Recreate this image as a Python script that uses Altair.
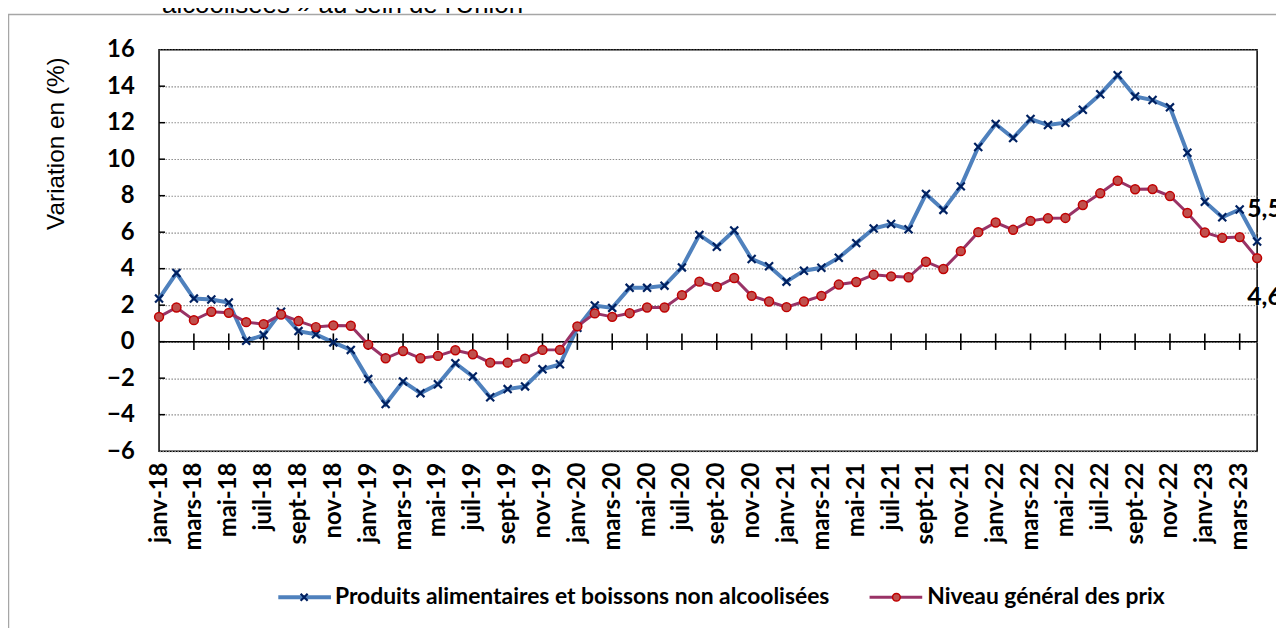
import altair as alt
import pandas as pd

# ---------------- data ----------------
months = ["janv", "févr", "mars", "avr", "mai", "juin",
          "juil", "août", "sept", "oct", "nov", "déc"]
years = ["18", "19", "20", "21", "22", "23"]
periods = [f"{m}-{y}" for y in years for m in months][:64]   # janv-18 .. avr-23

s_food = "Produits alimentaires et boissons non alcoolisées"
s_gen = "Niveau général des prix"

food = [2.36, 3.76, 2.36, 2.31, 2.15, 0.05, 0.36, 1.64, 0.58, 0.40, -0.04, -0.45,
        -2.05, -3.42, -2.18, -2.82, -2.33, -1.18, -1.91, -3.05, -2.60, -2.45, -1.51, -1.24,
        0.76, 1.98, 1.85, 2.95, 2.95, 3.07, 4.07, 5.85, 5.20, 6.09, 4.53, 4.13,
        3.29, 3.89, 4.05, 4.60, 5.40, 6.20, 6.45, 6.16, 8.09, 7.22, 8.51, 10.67,
        11.93, 11.16, 12.20, 11.87, 12.00, 12.71, 13.56, 14.60, 13.44, 13.24, 12.84, 10.35,
        7.67, 6.82, 7.24, 5.49]
general = [1.36, 1.87, 1.18, 1.64, 1.58, 1.07, 0.96, 1.49, 1.13, 0.80, 0.89, 0.87,
           -0.16, -0.91, -0.51, -0.91, -0.78, -0.47, -0.69, -1.15, -1.15, -0.93, -0.45, -0.45,
           0.84, 1.55, 1.36, 1.56, 1.87, 1.87, 2.55, 3.29, 3.00, 3.49, 2.51, 2.20,
           1.89, 2.20, 2.51, 3.13, 3.27, 3.67, 3.58, 3.53, 4.38, 3.98, 4.96, 6.00,
           6.53, 6.13, 6.62, 6.76, 6.78, 7.49, 8.13, 8.82, 8.35, 8.36, 7.98, 7.05,
           5.98, 5.69, 5.73, 4.58]

y_ticks = list(range(-6, 17, 2))
title_text = "alcoolisées » au sein de l'Union"

# ---------------- styling ----------------
W, H = 1105, 404
BLUE, NAVY = "#4F81BD", "#002060"
MAROON, RED_FILL, RED_STROKE = "#993366", "#C0504D", "#C00000"
XSHAPE = "M-1,-1L1,1M-1,1L1,-1"
BOLD = dict(font="Lato", fontWeight="bold")

food_df = pd.DataFrame({"period": periods, "value": food, "series": s_food})
gen_df = pd.DataFrame({"period": periods, "value": general, "series": s_gen})
ytick_df = pd.DataFrame({"value": y_ticks[1:-1]})
one = pd.DataFrame({"value": [0]})

x_axis = alt.Axis(values=periods[::2], labelAngle=-90, labelFont="Lato",
                  labelFontWeight="bold", labelFontSize=24, labelColor="black",
                  labelPadding=11, labelOverlap=False, ticks=False, domain=False,
                  grid=False, title=None)
y_axis = alt.Axis(values=y_ticks, labelFont="Lato", labelFontWeight="bold",
                  labelFontSize=24, labelColor="black", labelPadding=25,
                  labelOverlap=False, labelBound=False, labelFlush=False,
                  ticks=False, domain=False, grid=True, gridColor="#8C8C8C",
                  gridDash=[1.5, 1.5], gridWidth=1.2,
                  title="Variation en (%)", titleFont="Liberation Sans",
                  titleFontWeight="normal", titleFontSize=24.5, titleColor="black",
                  titleAngle=270, titleX=-103, titleY=94, titleAlign="center",
                  titleBaseline="middle")
x_scale = alt.Scale(type="point", padding=0, domain=periods)
y_scale = alt.Scale(domain=[-6, 16], nice=False, zero=False)
x_enc = alt.X("period:N", sort=periods, scale=x_scale, axis=x_axis)
y_enc = alt.Y("value:Q", scale=y_scale, axis=y_axis)

base_food = alt.Chart(food_df)
base_gen = alt.Chart(gen_df)

frame = alt.Chart(one).mark_rect(filled=False, stroke="#A6A6A6", strokeWidth=1.5).encode(
    x=alt.value(-151.5), x2=alt.value(1140), y=alt.value(-35.5), y2=alt.value(600))

title = alt.Chart(pd.DataFrame({"t": [title_text]})).mark_text(
    font="Liberation Sans", fontSize=26, align="left", baseline="alphabetic", color="black"
).encode(x=alt.value(3), y=alt.value(-37), text="t:N")

zero_rule = alt.Chart(one).mark_rule(color="black", strokeWidth=1.5).encode(y=y_enc)

# "cross" tick marks on the category axis every 2 months (not on the first month)
zero_ticks = base_food.transform_window(
    idx="row_number()"
).transform_filter(
    "datum.idx > 1 && (datum.idx - 1) % 2 == 0"
).transform_calculate(
    lo="-0.45", hi="0.45"
).mark_rule(color="black", strokeWidth=1.6, opacity=1).encode(
    x=x_enc, y=alt.Y("lo:Q", scale=y_scale, axis=y_axis), y2="hi:Q")

y_inner_ticks = alt.Chart(ytick_df).mark_rule(color="black", strokeWidth=1.5).encode(
    x=alt.value(0), x2=alt.value(6), y=y_enc)

food_line = base_food.mark_line(color=BLUE, strokeWidth=4).encode(x=x_enc, y=y_enc)
food_pts = base_food.mark_point(shape=XSHAPE, filled=False, stroke=NAVY,
                                strokeWidth=2.2, size=64, opacity=1).encode(
    x=x_enc, y=y_enc)
gen_line = base_gen.mark_line(color=MAROON, strokeWidth=3).encode(x=x_enc, y=y_enc)
gen_pts = base_gen.mark_point(shape="circle", filled=True, fill=RED_FILL,
                              stroke=RED_STROKE, strokeWidth=1.5, size=80, opacity=1).encode(
    x=x_enc, y=y_enc)

label_expr = "replace(format(datum.value, '.1f'), '.', ',')"
food_lbl = base_food.transform_filter(alt.datum.period == periods[-1]).transform_calculate(
    lbl=label_expr).mark_text(align="left", baseline="middle", dx=-10, dy=-33,
                              fontSize=25, color="black", **BOLD).encode(
    x=x_enc, y=y_enc, text="lbl:N")
gen_lbl = base_gen.transform_filter(alt.datum.period == periods[-1]).transform_calculate(
    lbl=label_expr).mark_text(align="left", baseline="middle", dx=-10, dy=39,
                              fontSize=25, color="black", **BOLD).encode(
    x=x_enc, y=y_enc, text="lbl:N")

# ---- legend (drawn manually: line + marker + label) ----
LY = 551
leg_food = alt.Chart(pd.DataFrame({"series": [s_food]}))
leg_gen = alt.Chart(pd.DataFrame({"series": [s_gen]}))
legend = alt.layer(
    leg_food.mark_rule(color=BLUE, strokeWidth=4).encode(
        x=alt.value(120), x2=alt.value(173), y=alt.value(LY)),
    leg_food.mark_point(shape=XSHAPE, filled=False, stroke=NAVY, strokeWidth=2.2,
                        size=50, opacity=1).encode(x=alt.value(146), y=alt.value(LY)),
    leg_food.mark_text(align="left", baseline="middle", fontSize=23, color="black",
                       **BOLD).encode(x=alt.value(177), y=alt.value(LY), text="series:N"),
    leg_gen.mark_rule(color=MAROON, strokeWidth=3).encode(
        x=alt.value(715), x2=alt.value(768), y=alt.value(LY)),
    leg_gen.mark_point(shape="circle", filled=True, fill=RED_FILL, stroke=RED_STROKE,
                       strokeWidth=1.5, size=60, opacity=1).encode(
        x=alt.value(742), y=alt.value(LY)),
    leg_gen.mark_text(align="left", baseline="middle", fontSize=23, color="black",
                      **BOLD).encode(x=alt.value(773), y=alt.value(LY), text="series:N"),
)

chart = alt.layer(
    frame, title, food_line, zero_rule, zero_ticks, y_inner_ticks,
    food_pts, gen_line, gen_pts, food_lbl, gen_lbl, legend,
).properties(
    width=W, height=H,
    autosize=alt.AutoSizeParams(type="none"),
    padding={"left": 152, "top": 40, "right": 19, "bottom": 176},
    background="white",
).configure_view(stroke="black", strokeWidth=1.5
).configure_axisY(labelOverlap=False, labelBound=False, labelFlush=False)

chart.save("out.html", embed_options={"renderer": "svg", "actions": False})
